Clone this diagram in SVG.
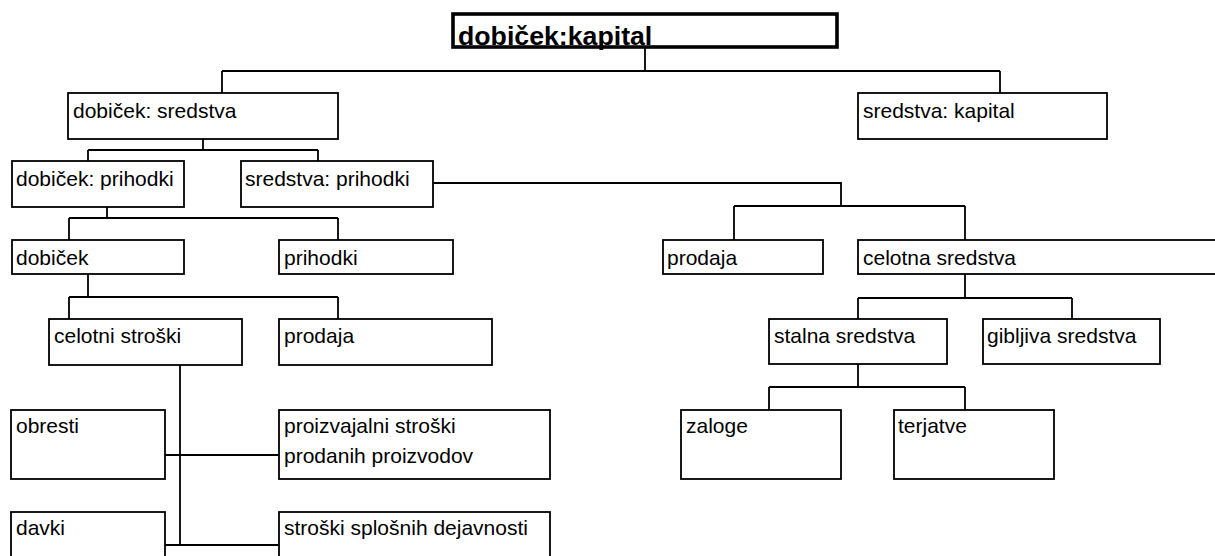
<svg xmlns="http://www.w3.org/2000/svg" width="1215" height="556" viewBox="0 0 1215 556">
<style>
.b{fill:#fff;stroke:#000;stroke-width:1.8}
.t{font-family:"Liberation Sans",Arial,sans-serif;font-size:21px;fill:#000}
.c{fill:none;stroke:#000;stroke-width:1.8}
</style>
<rect width="1215" height="556" fill="#fff"/>
<g id="connectors">
<path class="c" d="M645 48V71M222 71H1000M222 71V93M1000 71V93"/>
<path class="c" d="M203 139V150M88 150H318M88 150V161M318 150V161"/>
<path class="c" d="M107 207V218M69 218H338M69 218V240M338 218V240"/>
<path class="c" d="M433 183H841V206M734 206H965M734 206V240M965 206V240"/>
<path class="c" d="M88 274V297M69 297H338M69 297V319M338 297V319"/>
<path class="c" d="M180 365V545M165 455H279M165 545H279"/>
<path class="c" d="M965 274V298M858 298H1072M858 298V319M1072 298V319"/>
<path class="c" d="M858 364V387M769 387H965M769 387V410M965 387V410"/>
</g>
<g id="n-root">
<rect x="453" y="14" width="384" height="33" fill="#fff"/>
<text x="458" y="44.5" style="font-family:'Liberation Sans',Arial,sans-serif;font-size:26.7px;font-weight:bold">dobiček:kapital</text>
<rect x="453" y="14" width="384" height="33" fill="none" stroke="#000" stroke-width="3.6"/>
</g>
<g id="n-dobicek-sredstva"><rect class="b" x="68" y="93" width="270" height="46"/><text class="t" x="73" y="118">dobiček: sredstva</text></g>
<g id="n-sredstva-kapital"><rect class="b" x="858" y="93" width="249" height="46"/><text class="t" x="863" y="118">sredstva: kapital</text></g>
<g id="n-dobicek-prihodki"><rect class="b" x="12" y="161" width="172" height="46"/><text class="t" x="16" y="186">dobiček: prihodki</text></g>
<g id="n-sredstva-prihodki"><rect class="b" x="241" y="161" width="192" height="46"/><text class="t" x="245" y="186">sredstva: prihodki</text></g>
<g id="n-dobicek"><rect class="b" x="12" y="240" width="172" height="34"/><text class="t" x="16" y="265">dobiček</text></g>
<g id="n-prihodki"><rect class="b" x="279" y="240" width="174" height="34"/><text class="t" x="284" y="265">prihodki</text></g>
<g id="n-prodaja-r"><rect class="b" x="663" y="240" width="160" height="34"/><text class="t" x="667" y="265">prodaja</text></g>
<g id="n-celotna"><rect class="b" x="858" y="240" width="362" height="34"/><text class="t" x="863" y="265">celotna sredstva</text></g>
<g id="n-celotni"><rect class="b" x="49" y="319" width="193" height="46"/><text class="t" x="54" y="343">celotni stroški</text></g>
<g id="n-prodaja-l"><rect class="b" x="279" y="319" width="213" height="46"/><text class="t" x="284" y="343">prodaja</text></g>
<g id="n-stalna"><rect class="b" x="769" y="319" width="178" height="45"/><text class="t" x="774" y="343">stalna sredstva</text></g>
<g id="n-gibljiva"><rect class="b" x="983" y="319" width="177" height="45"/><text class="t" x="987" y="343">gibljiva sredstva</text></g>
<g id="n-obresti"><rect class="b" x="11" y="410" width="154" height="69"/><text class="t" x="16" y="433">obresti</text></g>
<g id="n-proizvajalni"><rect class="b" x="279" y="410" width="271" height="69"/><text class="t" x="284" y="433">proizvajalni stroški</text><text class="t" x="284" y="463">prodanih proizvodov</text></g>
<g id="n-zaloge"><rect class="b" x="681" y="410" width="160" height="69"/><text class="t" x="686" y="433">zaloge</text></g>
<g id="n-terjatve"><rect class="b" x="894" y="410" width="160" height="69"/><text class="t" x="898" y="433">terjatve</text></g>
<g id="n-davki"><rect class="b" x="11" y="512" width="154" height="60"/><text class="t" x="16" y="535">davki</text></g>
<g id="n-stroski-splosnih"><rect class="b" x="279" y="512" width="271" height="60"/><text class="t" x="284" y="535">stroški splošnih dejavnosti</text></g>
</svg>
